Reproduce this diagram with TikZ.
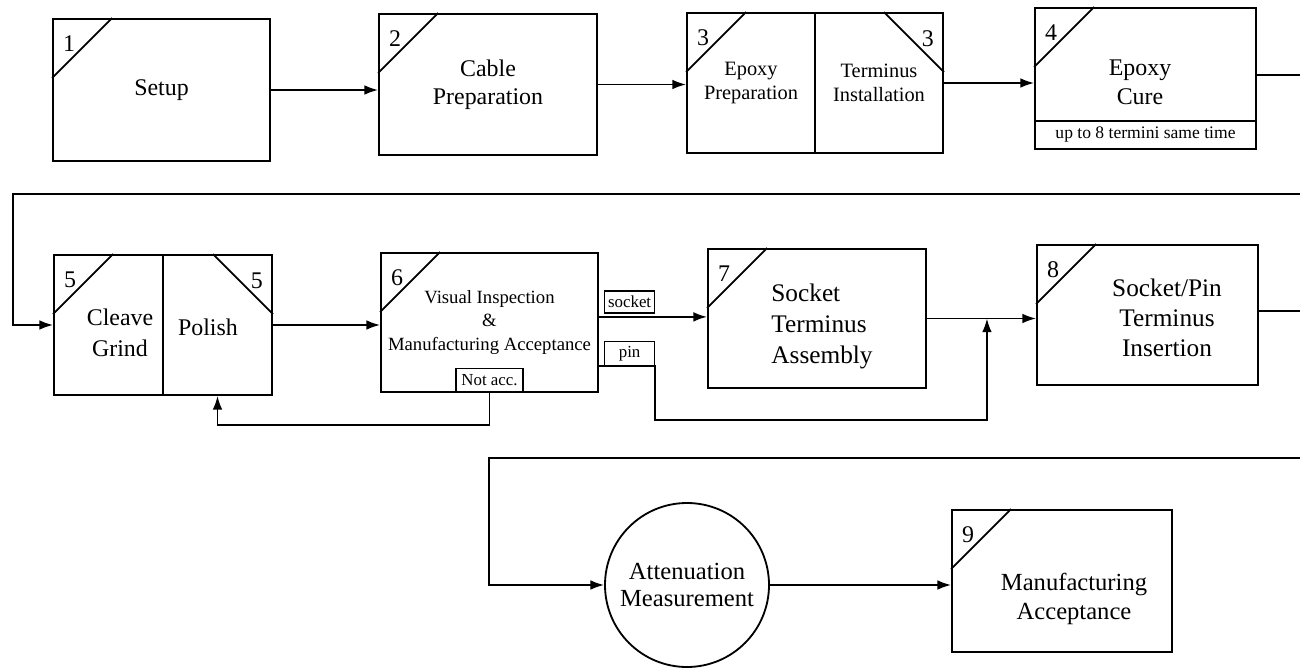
\documentclass[tikz,border=0pt]{standalone}
\usepackage{fontspec}
\setmainfont{Liberation Serif}
\usepackage{tikz}
\usetikzlibrary{
    arrows.meta,
    calc
}
\tikzset{
    stepbox/.style={
        draw,
        line width=1.3pt,
        inner sep=0pt,
        align=center,
        font=\fontsize{17}{20}\selectfont
    }
}
\tikzset{
    smallbox/.style={
        stepbox,
        font=\fontsize{14.5}{17}\selectfont
    }
}
\tikzset{
    steptext/.style={
        align=center,
        inner sep=0pt,
        font=\fontsize{17}{20}\selectfont
    }
}
\tikzset{
    stepno/.style={
        inner sep=0pt,
        font=\fontsize{17}{17}\selectfont
    }
}
\tikzset{
    tag/.style={
        draw,
        line width=1pt,
        inner sep=1pt,
        minimum width=12.5mm,
        minimum height=5.5mm,
        font=\fontsize{12}{12}\selectfont
    }
}
\tikzset{
    flow/.style={
        draw,
        line width=1.3pt,
        -{Latex[length=3.4mm,width=2.4mm]}
    }
}
\tikzset{
    link/.style={
        draw,
        line width=1.3pt
    }
}

\begin{document}
\begin{tikzpicture}[x=0.25mm, y=-0.25mm]

\useasboundingbox (0,0) rectangle (1300,670);

% ------------------------------------------------------------
% Row 1: setup to epoxy cure
% ------------------------------------------------------------

\node[stepbox, minimum width=54.25mm, minimum height=35.5mm] (setup) at (161.5,90) {Setup};
\node[stepbox, minimum width=54.5mm, minimum height=35.25mm] (cable) at (488,84.5)
    {Cable\\Preparation};
\node[smallbox, minimum width=32mm, minimum height=35mm] (prep) at (751,83)
    {Epoxy\\Preparation};
\node[smallbox, minimum width=32mm, minimum height=35mm] (install) at (879,83)
    {Terminus\\Installation};
\node[stepbox, minimum width=55.25mm, minimum height=28.25mm] (cure) at (1145.5,64.5) {};
\node[steptext, font=\fontsize{17}{20.5}\selectfont] (curetext) at (1140,82.5) {Epoxy\\Cure};
\node[stepbox, minimum width=55.25mm, minimum height=7mm, font=\fontsize{12.5}{12.5}\selectfont]
    (batch) at (1145.5,135) {up to 8 termini same time};

\coordinate (edge1) at (1300,75);
\draw[flow] (setup.east) -- (setup.east -| cable.west);
\draw[flow] (cable.east) -- (cable.east -| prep.west);
\draw[flow] (install.east) -- (install.east -| cure.west);
\draw[link] (cure.east |- edge1) -- (edge1);

% ------------------------------------------------------------
% Row 2: cleave/polish to terminus insertion
% ------------------------------------------------------------

\node[stepbox, minimum width=27.25mm, minimum height=35mm] (cleave) at (108.5,325) {};
\node[stepbox, minimum width=27.25mm, minimum height=35mm] (polish) at (217.5,325) {};
\node[steptext, font=\fontsize{17}{22.5}\selectfont] (cleavetext) at (120,333) {Cleave\\Grind};
\node[steptext] (polishtext) at (208,327) {Polish};

\node[stepbox, minimum width=54.25mm, minimum height=34.75mm, font=\fontsize{13.3}{17}\selectfont]
    (inspect) at (489.5,322.5) {Visual Inspection\\\&\\Manufacturing Acceptance};

\node[stepbox, minimum width=54.5mm, minimum height=34.75mm] (sockasm) at (817,318.5) {};
\node[steptext, align=left, font=\fontsize{18}{22}\selectfont] (sockasmtext) at (822,326.5)
    {Socket\\Terminus\\Assembly};

\node[stepbox, minimum width=55.25mm, minimum height=35mm] (insert) at (1147.5,315) {};
\node[steptext, font=\fontsize{18}{21.3}\selectfont] (inserttext) at (1167,318)
    {Socket/Pin\\Terminus\\Insertion};

\coordinate (edge1b) at (1300,194);
\coordinate (turn1) at (13,194);
\draw[flow] (edge1b) -- (turn1) |- (cleave.west);
\draw[flow] (polish.east) -- (polish.east -| inspect.west);

% socket branch
\coordinate (sockout) at ([yshift=1.4mm]inspect.east);
\draw[flow] (sockout) -- (sockout -| sockasm.west);
\node[tag, anchor=south west] (socket) at ([xshift=1.25mm,yshift=0.75mm]sockout) {socket};

% pin branch
\coordinate (pinout) at ([yshift=-10.9mm]inspect.east);
\node[tag, anchor=south west, minimum height=6mm] (pin) at ([xshift=1.25mm]pinout) {pin};
\coordinate (join) at ($(sockasm.east)!0.55!(sockasm.east -| insert.west)$);
\draw[flow] (sockasm.east) -- (sockasm.east -| insert.west);
\draw[flow] (pinout) -- (pinout -| pin.east) -- ++(0,54) -| (join);

% rejected termini go back to polishing
\node[tag, anchor=south, minimum width=16.75mm, minimum height=6mm] (notacc) at (inspect.south) {Not acc.};
\draw[flow] (notacc.south) -- ++(0,32) -| (polish.south);

\coordinate (edge2) at (1300,311);
\draw[link] (insert.east |- edge2) -- (edge2);

% ------------------------------------------------------------
% Row 3: measurement and acceptance
% ------------------------------------------------------------

\node[stepbox, circle, minimum size=41mm, font=\fontsize{17.5}{19.5}\selectfont] (atten) at (687,585)
    {Attenuation\\Measurement};
\node[stepbox, minimum width=55mm, minimum height=35.5mm] (accept) at (1062,581) {};
\node[steptext, font=\fontsize{17.5}{20}\selectfont] (accepttext) at (1074,599)
    {Manufacturing\\Acceptance};

\coordinate (edge2b) at (1300,458);
\coordinate (turn2) at (489,458);
\draw[flow] (edge2b) -- (turn2) |- (atten.west);
\draw[flow] (atten.east) -- (atten.east -| accept.west);

% ------------------------------------------------------------
% Step numbers in the cut corners
% ------------------------------------------------------------

\foreach \b/\n in {setup/1, cable/2, prep/3, cure/4, cleave/5, inspect/6, sockasm/7, insert/8, accept/9} {
    \draw[link] ([yshift=-15mm]\b.north west) -- ([xshift=15mm]\b.north west);
    \node[stepno] (no\b) at ([xshift=4.25mm,yshift=-6.5mm]\b.north west) {\n};
}
\foreach \b/\n in {install/3, polish/5} {
    \draw[link] ([xshift=-15mm]\b.north east) -- ([yshift=-15mm]\b.north east);
    \node[stepno] (no\b) at ([xshift=-4mm,yshift=-6.75mm]\b.north east) {\n};
}

\end{tikzpicture}
\end{document}
